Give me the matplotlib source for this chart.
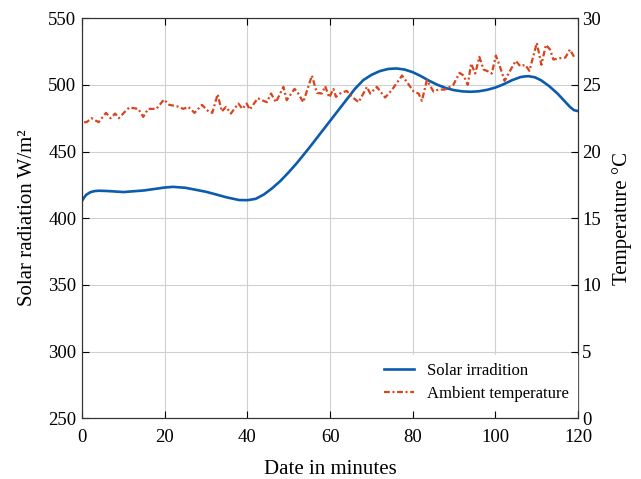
import matplotlib.pyplot as plt

# Solar irradiation (W/m^2)
solar_min = [0, 0.5, 1, 2, 3, 4, 6, 10, 15, 20, 22, 25, 28, 30, 33, 35, 38, 40,
             42, 44, 46, 48, 50, 52, 55, 58, 60, 62, 64, 66, 68, 70, 72, 74, 76,
             78, 80, 82, 84, 86, 88, 90, 92, 94, 96, 98, 100, 102, 104, 106,
             107, 108, 109.5, 111, 113, 115, 116.5, 118, 119, 120]
solar_val = [413, 415.5, 417.5, 419.5, 420.3, 420.6, 420.4, 419.6, 420.8, 423,
             423.5, 422.8, 421, 419.8, 417.3, 415.6, 413.6, 413.5, 414.5, 417.8,
             422.5, 428, 434.5, 441.5, 453, 465, 473, 481, 489, 497, 503.5,
             507.5, 510.3, 511.9, 512.3, 511.5, 509.5, 506.5, 503, 500, 497.6,
             496, 495.1, 494.8, 495.2, 496.3, 498, 500.5, 503.5, 505.8, 506.3,
             506.5, 505.7, 503.5, 499, 493.5, 488.5, 483.5, 481, 480.3]

# Ambient temperature (deg C)
temp_min = [0.5, 1.1, 2.3, 4, 5.8, 6.9, 8, 8.9, 10.4, 11.4, 13.6, 14.8, 16, 18,
            19.8, 21.1, 22.9, 24.5, 25.7, 27.2, 29, 30.6, 31.5, 32.8, 33.8, 34.8,
            36, 37.8, 38.8, 39.8, 40.6, 42.5, 43.9, 44.7, 45.7, 46.9, 48.7, 49.5,
            51.4, 52.2, 53.5, 55.6, 56.8, 58, 58.8, 59.8, 60.8, 61.4, 62.4, 64,
            65.3, 66.9, 68.9, 69.7, 71.3, 73.3, 74.9, 77.4, 78.6, 80.2, 81.4,
            82.2, 83.4, 85, 86.2, 87.8, 89.8, 91.3, 92.3, 93.3, 94.1, 95.1, 96.1,
            97.1, 98.3, 99.1, 100.1, 101.1, 102.2, 103.6, 104.9, 106, 107.2,
            108.2, 110, 111.1, 112.2, 113.2, 114, 115.6, 116.9, 118, 119.1]
temp_val = [22.2, 22.2, 22.5, 22.2, 22.9, 22.5, 22.85, 22.5, 23.0, 23.3, 23.2,
            22.6, 23.2, 23.2, 23.9, 23.5, 23.4, 23.2, 23.35, 22.9, 23.5, 23.0,
            22.9, 24.3, 23.0, 23.35, 22.85, 23.6, 23.2, 23.6, 23.15, 24.0, 23.8,
            23.7, 24.35, 23.7, 24.85, 23.85, 24.7, 24.4, 23.7, 25.7, 24.4, 24.35,
            24.9, 24.05, 24.7, 24.1, 24.35, 24.55, 24.1, 23.7, 24.85, 24.35,
            24.85, 24.05, 24.6, 25.7, 25.2, 24.5, 24.35, 23.8, 25.35, 24.5,
            24.65, 24.65, 25.0, 25.9, 25.7, 25.0, 26.6, 25.85, 27.1, 26.15, 26.0,
            25.85, 27.2, 26.35, 25.3, 26.1, 26.8, 26.4, 26.5, 26.05, 28.15, 26.5,
            28.0, 27.65, 26.9, 27.0, 27.05, 27.65, 27.05]

plt.rcParams['font.family'] = ['Liberation Serif', 'DejaVu Serif']

fig = plt.figure(figsize=(6.41, 4.79), dpi=100)
ax = fig.add_axes([0.128, 0.127, 0.774, 0.835])
ax2 = ax.twinx()

l1, = ax.plot(solar_min, solar_val, color='#0b5cad', lw=1.9, label='Solar irradition')
l2, = ax2.plot(temp_min, temp_val, color='#d9441c', lw=1.6,
               ls=(0, (2.6, 1.2, 0.9, 1.2)), label='Ambient temperature')

ax.set_xlim(0, 120)
ax.set_ylim(250, 550)
ax2.set_ylim(0, 30)
ax.set_xticks(range(0, 121, 20))
ax.set_yticks(range(250, 551, 50))
ax2.set_yticks(range(0, 31, 5))
ax.grid(True, color='#d0d0d0', lw=0.8)

ax.tick_params(axis='x', direction='in', top=True, labelsize=13.5, length=5, pad=8)
ax.tick_params(axis='y', direction='in', labelsize=13.5, length=5, pad=4)
ax2.tick_params(direction='in', labelsize=13.5, length=5, pad=3)
for a in (ax, ax2):
    for s in a.spines.values():
        s.set_color('#333333')

ax.set_xlabel('Date in minutes', fontsize=15, labelpad=10)
ax.set_ylabel('Solar radiation W/m²', fontsize=15, labelpad=8)
ax2.set_ylabel('Temperature °C', fontsize=15, labelpad=8)

leg = ax2.legend(handles=[l1, l2], loc='lower right', bbox_to_anchor=(0.998, 0.02),
                 frameon=True, fontsize=12, handlelength=1.8, handletextpad=0.75,
                 labelspacing=0.4, borderaxespad=0, borderpad=0.5)
leg.get_frame().set_edgecolor('white')
leg.get_frame().set_facecolor('white')
leg.get_frame().set_alpha(1)
leg.get_frame().set_boxstyle('square', pad=0)

fig.savefig('out.png', dpi=100)
